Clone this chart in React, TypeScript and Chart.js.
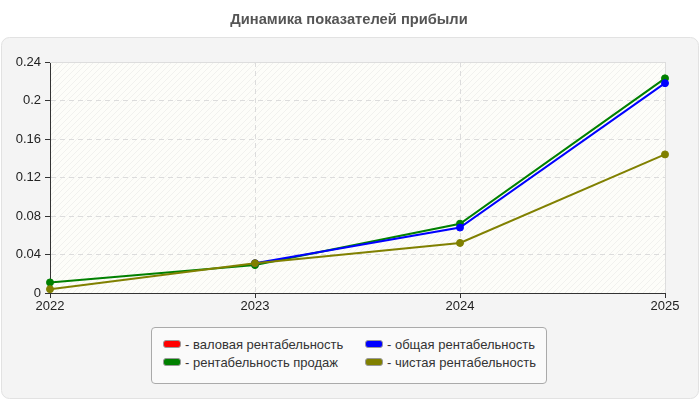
import React, { useEffect, useRef } from "react";
import { Chart, registerables } from "chart.js";

Chart.register(...registerables);

const TITLE = "Динамика показателей прибыли";
const years = ["2022", "2023", "2024", "2025"];
const grossMargin: (number | null)[] = [null, null, null, null];
const totalMargin: (number | null)[] = [null, 0.031, 0.068, 0.218];
const salesMargin: (number | null)[] = [0.011, 0.029, 0.072, 0.223];
const netMargin: (number | null)[] = [0.004, 0.031, 0.052, 0.144];
const yTicks = [0, 0.04, 0.08, 0.12, 0.16, 0.2, 0.24];

const legendItems = [
  { label: "- валовая рентабельность", color: "#ff0000", x: 163, y: 344 },
  { label: "- общая рентабельность", color: "#0000ff", x: 365, y: 344 },
  { label: "- рентабельность продаж", color: "#008000", x: 163, y: 362 },
  { label: "- чистая рентабельность", color: "#808000", x: 365, y: 362 },
];

const FONT = "'Liberation Sans', Arial, sans-serif";

function makePattern(ctx: CanvasRenderingContext2D) {
  const c = document.createElement("canvas");
  c.width = 6;
  c.height = 6;
  const p = c.getContext("2d")!;
  p.fillStyle = "#fdfdf9";
  p.fillRect(0, 0, 6, 6);
  p.strokeStyle = "#f1f1ee";
  p.lineWidth = 1;
  p.beginPath();
  p.moveTo(-1, 7);
  p.lineTo(7, -1);
  p.moveTo(-1, 1);
  p.lineTo(1, -1);
  p.moveTo(5, 7);
  p.lineTo(7, 5);
  p.stroke();
  return ctx.createPattern(c, "repeat");
}

function roundRect(ctx: CanvasRenderingContext2D, x: number, y: number, w: number, h: number, r: number) {
  ctx.beginPath();
  ctx.moveTo(x + r, y);
  ctx.lineTo(x + w - r, y);
  ctx.arcTo(x + w, y, x + w, y + r, r);
  ctx.lineTo(x + w, y + h - r);
  ctx.arcTo(x + w, y + h, x + w - r, y + h, r);
  ctx.lineTo(x + r, y + h);
  ctx.arcTo(x, y + h, x, y + h - r, r);
  ctx.lineTo(x, y + r);
  ctx.arcTo(x, y, x + r, y, r);
  ctx.closePath();
}

const backgroundPlugin = {
  id: "bgPanel",
  beforeDraw(chart: any) {
    const ctx: CanvasRenderingContext2D = chart.ctx;
    const { left, right, top, bottom } = chart.chartArea;
    ctx.save();
    ctx.fillStyle = "#ffffff";
    ctx.fillRect(0, 0, chart.width, chart.height);
    roundRect(ctx, 1.5, 37.5, 697, 361, 8);
    ctx.fillStyle = "#f4f4f4";
    ctx.fill();
    ctx.strokeStyle = "#e2e2e2";
    ctx.lineWidth = 1;
    ctx.stroke();
    ctx.fillStyle = "#555555";
    ctx.font = `bold 14.7px ${FONT}`;
    ctx.textAlign = "center";
    ctx.textBaseline = "middle";
    ctx.fillText(TITLE, 349, 20);
    const pat = makePattern(ctx);
    ctx.fillStyle = pat || "#fdfdf9";
    ctx.fillRect(left, top, right - left, bottom - top);
    ctx.restore();
  },
  beforeDatasetsDraw(chart: any) {
    const ctx: CanvasRenderingContext2D = chart.ctx;
    const { left, right, top, bottom } = chart.chartArea;
    ctx.save();
    ctx.strokeStyle = "#dddddd";
    ctx.lineWidth = 1;
    ctx.beginPath();
    ctx.moveTo(left, top + 0.5);
    ctx.lineTo(right + 0.5, top + 0.5);
    ctx.lineTo(right + 0.5, bottom);
    ctx.stroke();
    ctx.restore();
  },
};

export default function App() {
  const ref = useRef<HTMLCanvasElement | null>(null);

  useEffect(() => {
    if (!ref.current) return;
    const mk = (label: string, data: (number | null)[], color: string) => ({
      label,
      data,
      borderColor: color,
      backgroundColor: color,
      pointBackgroundColor: color,
      pointBorderColor: color,
      borderWidth: 2,
      pointRadius: 3.5,
      pointBorderWidth: 1,
      tension: 0,
      spanGaps: false,
      fill: false,
    });
    const chart = new Chart(ref.current, {
      type: "line",
      data: {
        labels: years,
        datasets: [
          mk("чистая рентабельность", netMargin, "#808000"),
          mk("общая рентабельность", totalMargin, "#0000ff"),
          mk("рентабельность продаж", salesMargin, "#008000"),
          mk("валовая рентабельность", grossMargin, "#ff0000"),
        ],
      },
      options: {
        animation: false,
        responsive: false,
        maintainAspectRatio: false,
        layout: { padding: { top: 62, left: 0, right: 35, bottom: 0 } },
        plugins: {
          legend: { display: false },
          title: { display: false },
          tooltip: { enabled: false },
        },
        scales: {
          x: {
            type: "category",
            offset: false,
            afterFit: (s: any) => {
              s.height = 107;
            },
            grid: {
              color: "#dcdcdc",
              tickColor: "#333333",
              tickLength: 5,
              drawOnChartArea: true,
            },
            border: { display: true, color: "#333333", width: 1, dash: [5, 4] },
            ticks: {
              color: "#222222",
              font: { family: FONT, size: 13 },
              padding: 1,
              maxRotation: 0,
              autoSkip: false,
            },
          },
          y: {
            min: 0,
            max: 0.24,
            afterFit: (s: any) => {
              s.width = 50;
            },
            afterBuildTicks: (s: any) => {
              s.ticks = yTicks.map((v) => ({ value: v }));
            },
            grid: {
              color: "#dcdcdc",
              tickColor: "#333333",
              tickLength: 5,
            },
            border: { display: true, color: "#333333", width: 1, dash: [5, 4] },
            ticks: {
              color: "#222222",
              font: { family: FONT, size: 13 },
              padding: 4,
              callback: (v: any) => String(Number(v)),
            },
          },
        },
      },
      plugins: [backgroundPlugin],
    } as any);
    return () => chart.destroy();
  }, []);

  return (
    <div style={{ position: "fixed", left: 0, top: 0, width: 700, height: 400, background: "#fff" }}>
      <canvas ref={ref} width={700} height={400} style={{ position: "absolute", left: 0, top: 0, width: 700, height: 400 }} />
      <div
        style={{
          position: "absolute",
          left: 151,
          top: 327,
          width: 394,
          height: 55,
          background: "#fafafa",
          border: "1px solid #aaaaaa",
          borderRadius: 4,
        }}
      />
      {legendItems.map((it) => (
        <div
          key={it.label}
          style={{
            position: "absolute",
            left: it.x,
            top: it.y - 8,
            height: 16,
            display: "flex",
            alignItems: "center",
            whiteSpace: "nowrap",
            fontFamily: FONT,
            fontSize: 13,
            color: "#333333",
          }}
        >
          <span
            style={{
              display: "inline-block",
              width: 16,
              height: 6,
              background: it.color,
              border: "1px solid #999999",
              borderRadius: 3,
              marginRight: 4,
            }}
          />
          <span>{it.label}</span>
        </div>
      ))}
    </div>
  );
}
